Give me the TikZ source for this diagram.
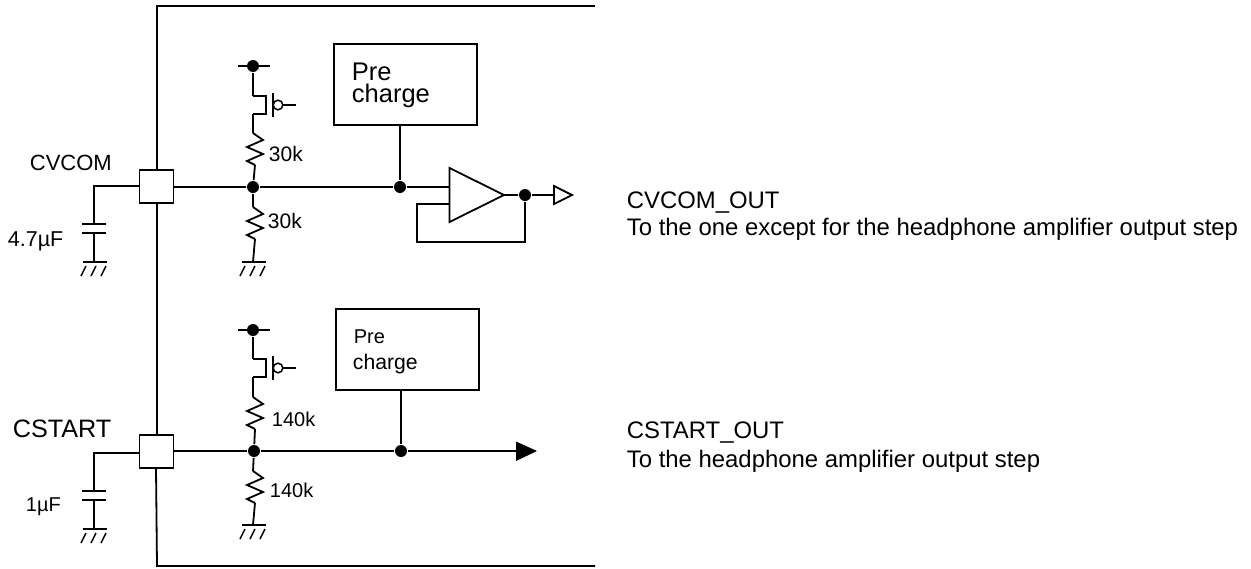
\documentclass[tikz,border=0pt]{standalone}
\usepackage{fontspec}
\setmainfont{Liberation Sans}
\tikzset{
  every path/.style={line width=1.8pt,line join=miter},
  txt/.style={inner sep=0pt,anchor=base west},
  stack/.style={inner sep=0pt,anchor=south west,align=left},
  pad/.style={draw,fill=white,inner sep=0pt,minimum width=34pt,minimum height=33pt},
  blockbox/.style={draw,fill=white,inner sep=0pt},
  dotj/.style={circle,fill=black,inner sep=0pt,minimum size=12pt},
  resz/.pic={\draw (0,0)--(10,7)--(-6,14)--(10,21)--(-6,28)--(2,32);},
  gnd/.pic={\draw (-11.5,0)--(12.5,0);
    \foreach \q in {-8,2,12}{\draw[line width=1.4pt] (\q,4)--(\q-5,14);}},
  capa/.pic={\draw (-12,0)--(12,0) (-12,9)--(12,9);},
  pfet/.pic={\draw (0,0)--(13,0)--(13,18)--(0,18);
    \draw (20,-3)--(20,21);
    \draw[line width=1.5pt] (25,9) circle[radius=4.8];
    \draw (29.8,9)--(43,9);},
}
\begin{document}
\begin{tikzpicture}[x=1pt,y=-1pt]
\useasboundingbox (0,0) rectangle (1251,568);
% frame
\coordinate (ftr) at (595,6);
\coordinate (ftl) at (157,6);
\coordinate (fbr) at (595,566);
\coordinate (fbl) at (157,566);
\node[pad] (p1) at (156.5,186.5) {};
\node[pad] (p2) at (156.5,451.5) {};
\draw (ftr)--(ftl)--(p1.north -| ftl);
\draw (p1.south -| ftl)--(p2.north -| ftl);
\draw (156,468)--(fbl)--(fbr);
% --- CVCOM
\coordinate (c1t) at (94,186);
\coordinate (c1a) at (94,224);
\coordinate (c1b) at (94,233);
\coordinate (c1g) at (94,262);
\draw (p1.west |- c1t)--(c1t)--(c1a);
\draw (c1b)--(c1g);
\pic at (c1a) {capa};
\pic at (c1g) {gnd};
\node[dotj] (j1) at (253,187) {};
\node[dotj] (v1) at (253,66) {};
\draw (238,66)--(270,66);
\coordinate (f1) at (253,96);
\coordinate (r1t) at (253,133);
\coordinate (r1b) at (255,165);
\draw (v1)--(f1);
\pic at (f1) {pfet};
\draw (253,114)--(r1t);
\pic at (r1t) {resz};
\draw (r1b)--(j1);
\coordinate (r2t) at (253,207);
\coordinate (r2b) at (255,239);
\coordinate (g1) at (253,262);
\draw (j1)--(r2t);
\pic at (r2t) {resz};
\draw (r2b)--(g1);
\pic at (g1) {gnd};
\node[blockbox,minimum width=143pt,minimum height=81pt] (b1) at (405.5,84.5) {};
\node[dotj] (j2) at (400,187) {};
\draw (p1.east |- j1)--(j1)--(j2);
\draw (b1.south -| j2)--(j2);
\coordinate (a1) at (449.5,168);
\coordinate (a2) at (449.5,222);
\coordinate (a3) at (504,195);
\draw (a1)--(a3)--(a2)--cycle;
\draw (j2)--(449.5,187);
\node[dotj] (j3) at (525,195) {};
\coordinate (o1) at (554,186);
\coordinate (o2) at (554,204);
\coordinate (o3) at (572,195);
\draw (a3)--(j3)--(554,195);
\draw (o1)--(o3)--(o2)--cycle;
\coordinate (fb1) at (417,204);
\coordinate (fb2) at (417,242);
\coordinate (fb3) at (525,242);
\draw (449.5,204)--(fb1)--(fb2)--(fb3)--(j3);
% --- CSTART
\coordinate (c2t) at (94,453);
\coordinate (c2a) at (94,491);
\coordinate (c2b) at (94,500);
\coordinate (c2g) at (94,529);
\draw (p2.west |- c2t)--(c2t)--(c2a);
\draw (c2b)--(c2g);
\pic at (c2a) {capa};
\pic at (c2g) {gnd};
\node[dotj] (j4) at (254,451) {};
\node[dotj] (v2) at (253,330) {};
\draw (238,330)--(270,330);
\coordinate (f2) at (253,359);
\coordinate (r3t) at (253,397);
\coordinate (r3b) at (255,429);
\draw (v2)--(f2);
\pic at (f2) {pfet};
\draw (253,377)--(r3t);
\pic at (r3t) {resz};
\draw (r3b)--(j4);
\coordinate (r4t) at (253,471);
\coordinate (r4b) at (255,503);
\coordinate (g2) at (253,525);
\draw (j4)--(r4t);
\pic at (r4t) {resz};
\draw (r4b)--(g2);
\pic at (g2) {gnd};
\node[blockbox,minimum width=143pt,minimum height=81pt] (b2) at (407.5,349.5) {};
\node[dotj] (j5) at (401,451) {};
\draw (p2.east |- j4)--(j4)--(j5);
\draw (b2.south -| j5)--(j5);
\coordinate (t1) at (516,441.5);
\coordinate (t2) at (516,461);
\coordinate (t3) at (537,451);
\draw (j5)--(516,451);
\fill (t1)--(t3)--(t2)--cycle;
% --- texts
\node[txt,font=\fontsize{22}{22}\selectfont] (l1) at (29,170) {CVCOM};
\node[txt,font=\fontsize{21.5}{21.5}\selectfont] (l2) at (7,246) {4.7µF};
\node[txt,font=\fontsize{21}{21}\selectfont] (l3) at (268,161) {30k};
\node[txt,font=\fontsize{21}{21}\selectfont] (l4) at (267,228) {30k};
\node[txt,font=\fontsize{25.2}{25.2}\selectfont] (l5) at (12,437) {CSTART};
\node[txt,font=\fontsize{20}{20}\selectfont] (l6) at (25,511) {1µF};
\node[txt,font=\fontsize{20}{20}\selectfont] (l7) at (271,426) {140k};
\node[txt,font=\fontsize{20}{20}\selectfont] (l8) at (269,497) {140k};
\node[stack,font=\fontsize{25.5}{22}\selectfont] (l9) at (351,109) {Pre\\charge};
\node[txt,font=\fontsize{20}{20}\selectfont] (l11) at (353,343) {Pre};
\node[txt,font=\fontsize{21.2}{21.2}\selectfont] (l12) at (352,369) {charge};
\node[txt,font=\fontsize{23.9}{23.9}\selectfont] (l13) at (626,208) {CVCOM\_OUT};
\node[txt,font=\fontsize{23.9}{23.9}\selectfont] (l14) at (626,235) {To the one except for the headphone amplifier output step};
\node[txt,font=\fontsize{23.9}{23.9}\selectfont] (l15) at (626,438) {CSTART\_OUT};
\node[txt,font=\fontsize{23.9}{23.9}\selectfont] (l16) at (626,467) {To the headphone amplifier output step};
\end{tikzpicture}
\end{document}
